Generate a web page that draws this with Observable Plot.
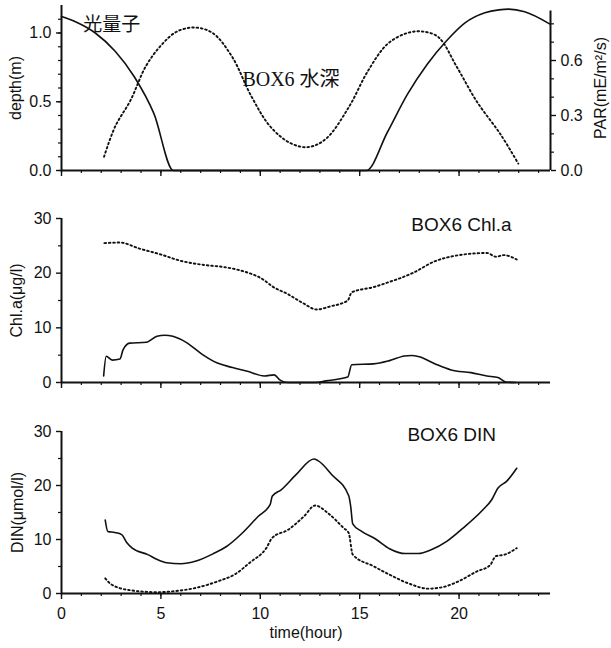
<!DOCTYPE html>
<html>
<head>
<meta charset="utf-8">
<script src="https://cdn.jsdelivr.net/npm/d3@7"></script>
<script src="https://cdn.jsdelivr.net/npm/@observablehq/plot@0.6"></script>
<style>
  body { margin: 0; background: #fff; }
  #chart svg { display: block; overflow: visible; }
</style>
</head>
<body>
<div id="chart"></div>
<script>
// ---- BOX6 water depth (m) and photon flux PAR (mE/m²/s) ----
const depthHours = [2.14, 2.7, 3.47, 4.25, 5.04, 5.8, 6.7, 7.6, 8.57, 9.55, 10.5, 11.5, 12.4, 13.3, 14.45, 15.4, 16.4, 17.4, 18.2, 18.96, 19.9, 20.9, 22.1, 22.98];
const depthValues = [0.10, 0.32, 0.51, 0.76, 0.915, 1.01, 1.04, 1.0, 0.83, 0.54, 0.32, 0.2, 0.17, 0.23, 0.46, 0.72, 0.92, 1.0, 1.01, 0.97, 0.75, 0.50, 0.26, 0.05];

const parHours = [0, 0.73, 1.7, 2.7, 3.67, 4.65, 5.63, 10, 15.33, 16.4, 17.4, 18.4, 19.35, 20.3, 21.3, 22.0, 22.5, 23.3, 24.55];
const parValues = [0.84, 0.81, 0.75, 0.65, 0.51, 0.31, 0, 0, 0, 0.21, 0.415, 0.58, 0.705, 0.805, 0.86, 0.876, 0.88, 0.866, 0.80];

// ---- BOX6 Chl.a (µg/l): two simulated series ----
const chlDotHours = [2.16, 2.94, 3.92, 5.1, 5.9, 7.06, 8.2, 9.0, 10.2, 10.6, 11.37, 12.16, 12.84, 13.5, 14.4, 14.6, 15.7, 16.5, 17.65, 18.8, 20.0, 21.4, 21.86, 22.25, 22.9];
const chlDotValues = [25.5, 25.6, 24.5, 23.3, 22.35, 21.55, 21.1, 20.5, 18.7, 17.6, 16.2, 14.5, 13.35, 13.9, 15.0, 16.5, 17.45, 18.4, 20.0, 22.2, 23.3, 23.7, 23.0, 23.3, 22.5];
const chlSolidHours = [2.12, 2.25, 2.55, 2.94, 3.1, 3.43, 4.27, 4.8, 5.2, 5.6, 6.27, 7.06, 7.84, 8.6, 9.4, 10.2, 10.7, 11.0, 11.37, 12.8, 13.3, 14.4, 14.6, 15.7, 16.5, 17.25, 17.6, 18.0, 18.8, 19.6, 20.6, 21.4, 21.96, 22.35, 22.84];
const chlSolidValues = [1.2, 4.8, 4.1, 4.3, 6.0, 7.2, 7.35, 8.45, 8.65, 8.45, 7.35, 5.2, 3.55, 2.75, 2.0, 1.2, 1.4, 0.43, 0, 0, 0.3, 1.0, 3.25, 3.4, 4.0, 4.85, 4.95, 4.7, 3.4, 2.3, 1.8, 1.2, 0.9, 0.1, 0];

// ---- BOX6 DIN (µmol/l): two simulated series ----
const dinSolidHours = [2.2, 2.33, 2.68, 3.03, 3.27, 3.56, 4.34, 4.82, 5.3, 6.0, 6.77, 7.65, 8.3, 9.1, 9.9, 10.5, 10.6, 11.05, 11.8, 12.7, 12.9, 13.6, 14.45, 14.55, 14.65, 15.1, 15.8, 16.5, 17.3, 17.96, 18.6, 19.4, 20.2, 21.2, 21.65, 21.95, 22.4, 22.9];
const dinSolidValues = [13.6, 11.5, 11.3, 10.9, 9.5, 8.4, 7.2, 6.3, 5.7, 5.5, 6.0, 7.4, 8.7, 11.2, 14.3, 16.5, 18.0, 19.2, 22.0, 24.9, 24.6, 22.0, 18.1, 16.1, 12.9, 11.5, 10.1, 8.3, 7.4, 7.4, 8.1, 9.7, 12.1, 15.5, 17.4, 19.5, 20.8, 23.2];
const dinDotHours = [2.2, 2.5, 3.46, 4.8, 5.6, 6.77, 7.9, 8.7, 9.5, 10.3, 10.6, 11.4, 12.2, 12.76, 13.4, 14.2, 14.45, 14.65, 15.7, 16.5, 17.5, 18.45, 19.2, 20.0, 20.9, 21.55, 21.85, 22.3, 22.9];
const dinDotValues = [2.8, 1.7, 0.6, 0.25, 0.4, 1.05, 2.3, 3.5, 5.8, 8.4, 10.3, 11.8, 14.3, 16.3, 14.9, 12.1, 11.2, 7.2, 5.05, 3.5, 1.8, 0.9, 1.2, 2.3, 4.1, 5.2, 6.9, 7.2, 8.4];

// ---- axis ticks and labels ----
const hourTicks = [0, 5, 10, 15, 20];
const hourMinorTicks = d3.range(0, 25);
const depthTicks = [0, 0.5, 1.0];
const depthMinorTicks = d3.range(0, 12).map(i => i / 10);
const parTicks = [0, 0.3, 0.6];
const parMinorTicks = [0.1, 0.2, 0.4, 0.5, 0.7, 0.8];
const concTicks = [0, 10, 20, 30];
const concMinorTicks = [5, 15, 25];

const xMax = 24.6;       // end of the time axis
const depthMax = 1.2;    // top of the depth axis
const parMax = 0.9;      // PAR value at the top of the frame
const parAxisTop = 0.87; // where the right axis line stops
const k = depthMax / parMax; // PAR -> depth-scale factor

const zip = (xs, ys) => xs.map((x, i) => ({hour: x, value: ys[i]}));

const sans = "'Liberation Sans', Arial, Helvetica, sans-serif";
const mixedSerif = "'Liberation Serif', 'Noto Sans CJK JP', serif";
const ink = "#111";
const solid = {x: "hour", y: "value", stroke: ink, strokeWidth: 1.6, curve: "monotone-x"};
const dotted = {x: "hour", y: "value", stroke: ink, strokeWidth: 1.9, strokeDasharray: "1.6,2.8", curve: "monotone-x"};

function frameMarks({yTicks, yMinor, yFmt, showX}) {
  return [
    Plot.axisX(hourMinorTicks, {tickSize: 3, tickFormat: () => "", label: null, strokeWidth: 1.2}),
    Plot.axisX(hourTicks, {tickSize: 6, tickPadding: 8, label: null, strokeWidth: 1.4,
      tickFormat: showX ? (d => String(d)) : (() => ""), fontSize: 16}),
    Plot.axisY(yMinor, {tickSize: 3, tickFormat: () => "", label: null, strokeWidth: 1.2}),
    Plot.axisY(yTicks, {tickSize: 5, tickPadding: 5, label: null, tickFormat: yFmt, fontSize: 16, strokeWidth: 1.4}),
    Plot.ruleY([0], {stroke: ink, strokeWidth: 2}),
    Plot.ruleX([0], {stroke: ink, strokeWidth: 2})
  ];
}

function yTitle(text, anchor, dx) {
  return Plot.text([text], {text: d => d, frameAnchor: anchor, textAnchor: "middle", lineAnchor: "middle",
    dx, rotate: -90, fontSize: 16, fill: ink});
}

const common = {
  width: 611,
  marginLeft: 61,
  marginRight: 61,
  x: {domain: [0, xMax], axis: null},
  style: {fontFamily: sans, fontSize: "16px", color: ink, background: "#fff"}
};

// Panel 1: depth (left axis) and PAR (right axis)
const p1 = Plot.plot({
  ...common,
  height: 200,
  marginTop: 5,
  marginBottom: 30,
  y: {domain: [0, depthMax], axis: null},
  marks: [
    ...frameMarks({yTicks: depthTicks, yMinor: depthMinorTicks, yFmt: d => d.toFixed(1), showX: false}),
    Plot.axisY(parMinorTicks.map(p => p * k), {anchor: "right", tickSize: 3, tickFormat: () => "", label: null, strokeWidth: 1.2}),
    Plot.axisY(parTicks.map(p => p * k), {anchor: "right", tickSize: 5, tickPadding: 5, label: null,
      tickFormat: d => (d / k).toFixed(1), fontSize: 16, strokeWidth: 1.4}),
    Plot.ruleX([xMax], {y1: 0, y2: parAxisTop * k, stroke: ink, strokeWidth: 2}),
    Plot.line(zip(depthHours, depthValues), {...dotted, curve: "catmull-rom"}),
    Plot.line(zip(parHours, parValues), {...solid, y: d => d.value * k}),
    Plot.text([{hour: 1.1, value: 1.06, label: "光量子"}], {x: "hour", y: "value", text: "label",
      textAnchor: "start", fontSize: 19, fontFamily: mixedSerif, fill: ink}),
    Plot.text([{hour: 9.1, value: 0.66, label: "BOX6 水深"}], {x: "hour", y: "value", text: "label",
      textAnchor: "start", fontSize: 20, fontFamily: mixedSerif, fill: ink}),
    yTitle("depth(m)", "left", -46),
    yTitle("PAR(mE/m²/s)", "right", 50)
  ]
});

// Panel 2: Chl.a
const p2 = Plot.plot({
  ...common,
  height: 200,
  marginTop: 18,
  marginBottom: 18,
  y: {domain: [0, 30], axis: null},
  marks: [
    ...frameMarks({yTicks: concTicks, yMinor: concMinorTicks, yFmt: d => String(d), showX: false}),
    Plot.line(zip(chlDotHours, chlDotValues), dotted),
    Plot.line(zip(chlSolidHours, chlSolidValues), solid),
    Plot.text([{hour: 17.6, value: 28.8, label: "BOX6 Chl.a"}], {x: "hour", y: "value", text: "label",
      textAnchor: "start", fontSize: 19, fill: ink}),
    yTitle("Chl.a(μg/l)", "left", -45)
  ]
});

// Panel 3: DIN
const p3 = Plot.plot({
  ...common,
  height: 248,
  marginTop: 31,
  marginBottom: 55,
  y: {domain: [0, 30], axis: null},
  marks: [
    ...frameMarks({yTicks: concTicks, yMinor: concMinorTicks, yFmt: d => String(d), showX: true}),
    Plot.line(zip(dinDotHours, dinDotValues), dotted),
    Plot.line(zip(dinSolidHours, dinSolidValues), solid),
    Plot.text([{hour: 17.4, value: 29.4, label: "BOX6 DIN"}], {x: "hour", y: "value", text: "label",
      textAnchor: "start", fontSize: 19, fill: ink}),
    yTitle("DIN(μmol/l)", "left", -44),
    Plot.text(["time(hour)"], {text: d => d, frameAnchor: "bottom", dy: 44, fontSize: 16, fill: ink})
  ]
});

const root = document.getElementById("chart");
root.append(p1, p2, p3);
</script>
</body>
</html>
